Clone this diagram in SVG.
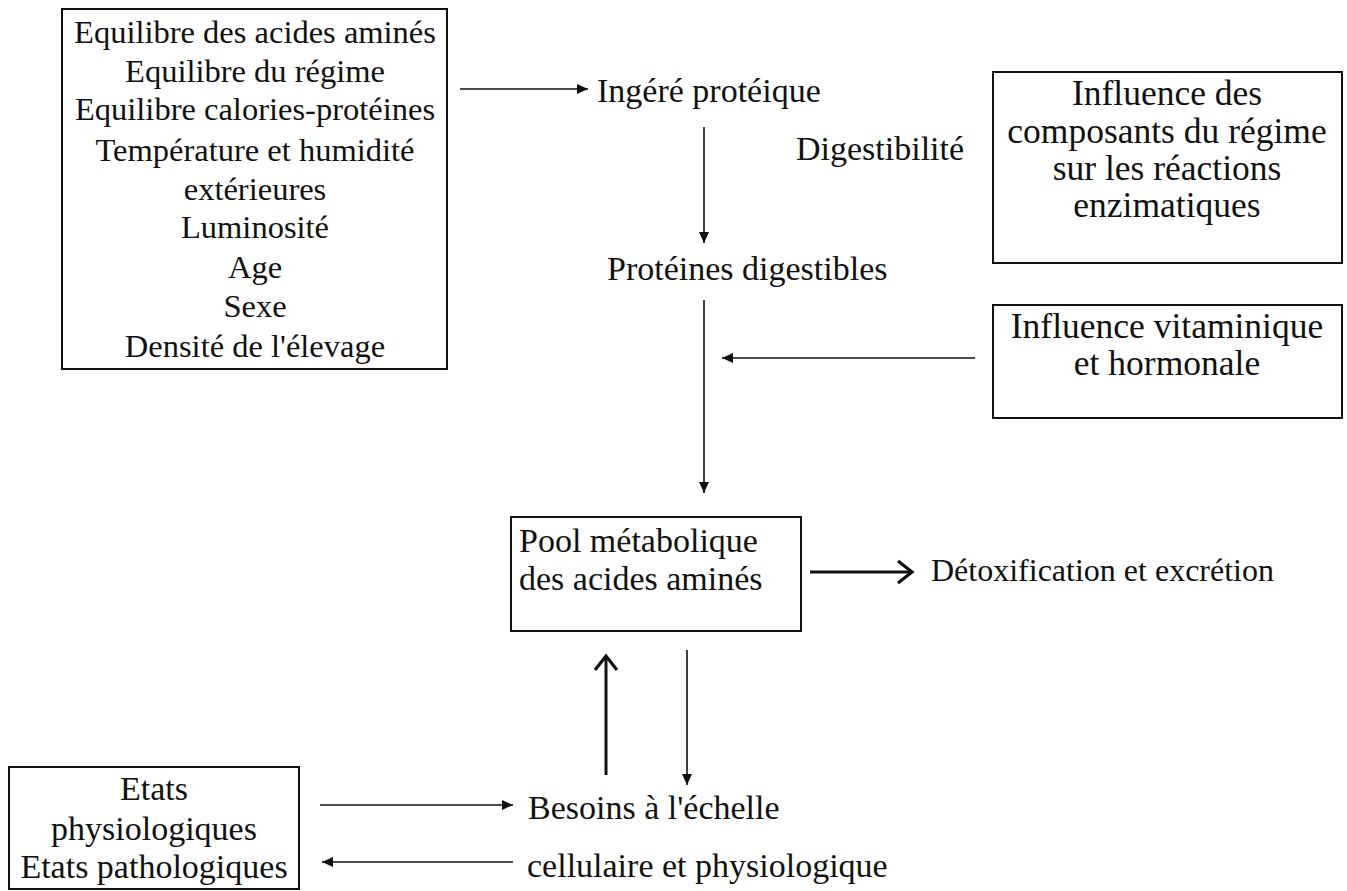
<svg xmlns="http://www.w3.org/2000/svg" width="1347" height="891" viewBox="0 0 1347 891">
<style>
text{font-family:"Liberation Serif","Times New Roman",serif;font-size:34px;fill:#111}
.s{font-size:32.5px}
.l{font-size:35.5px}
.d{font-size:32px}
.c{text-anchor:middle}
.box{fill:none;stroke:#111;stroke-width:2}
.ln{stroke:#111;stroke-width:1.6;fill:none}
.thk{stroke:#111;stroke-width:3;fill:none}
</style>
<defs>
<marker id="ah" markerUnits="userSpaceOnUse" markerWidth="12" markerHeight="12" refX="11" refY="5" orient="auto" viewBox="0 0 12 10">
<path d="M0,0 L11,5 L0,10 z" fill="#111"/>
</marker>
<marker id="chev" markerUnits="userSpaceOnUse" markerWidth="24" markerHeight="28" refX="18" refY="12" orient="auto" viewBox="0 0 24 24">
<path d="M4,1 L18,12 L4,23" fill="none" stroke="#111" stroke-width="3.2"/>
</marker>
</defs>
<rect width="1347" height="891" fill="#fff"/>

<g id="facteurs">
<rect class="box" x="62" y="9" width="385" height="360"/>
<text class="c s" x="255" y="43">Equilibre des acides aminés</text>
<text class="c s" x="255" y="82">Equilibre du régime</text>
<text class="c s" x="255" y="120">Equilibre calories-protéines</text>
<text class="c s" x="255" y="161">Température et humidité</text>
<text class="c s" x="255" y="200">extérieures</text>
<text class="c s" x="255" y="238">Luminosité</text>
<text class="c s" x="255" y="278">Age</text>
<text class="c s" x="255" y="317">Sexe</text>
<text class="c s" x="255" y="357">Densité de l'élevage</text>
</g>

<g id="ingere"><text x="597" y="102">Ingéré protéique</text></g>
<g id="digestibilite"><text x="796" y="160">Digestibilité</text></g>
<g id="proteines"><text x="607" y="280">Protéines digestibles</text></g>

<g id="influence-composants">
<rect class="box" x="993" y="72" width="349" height="191"/>
<text class="c l" x="1167" y="105">Influence des</text>
<text class="c l" x="1167" y="143">composants du régime</text>
<text class="c l" x="1167" y="180">sur les réactions</text>
<text class="c l" x="1167" y="217">enzimatiques</text>
</g>

<g id="influence-vitaminique">
<rect class="box" x="993" y="305" width="349" height="113"/>
<text class="c l" x="1167" y="338">Influence vitaminique</text>
<text class="c l" x="1167" y="375">et hormonale</text>
</g>

<g id="pool">
<rect class="box" x="511" y="517" width="290" height="114"/>
<text x="519" y="552">Pool métabolique</text>
<text x="519" y="590">des acides aminés</text>
</g>

<g id="detox"><text class="d" x="931" y="581">Détoxification et excrétion</text></g>

<g id="besoins">
<text x="528" y="819">Besoins à l'échelle</text>
<text x="527" y="877">cellulaire et physiologique</text>
</g>

<g id="etats">
<rect class="box" x="9" y="767" width="290" height="122"/>
<text class="c" x="154" y="800">Etats</text>
<text class="c" x="154" y="840">physiologiques</text>
<text class="c" x="154" y="878">Etats pathologiques</text>
</g>

<g id="connecteurs">
<line class="ln" x1="460" y1="89" x2="588" y2="89" marker-end="url(#ah)"/>
<line class="ln" x1="704" y1="127" x2="704" y2="243" marker-end="url(#ah)"/>
<line class="ln" x1="975" y1="358" x2="722" y2="358" marker-end="url(#ah)"/>
<line class="ln" x1="704" y1="300" x2="704" y2="493" marker-end="url(#ah)"/>
<line class="thk" x1="810" y1="572" x2="912" y2="572" marker-end="url(#chev)"/>
<line class="thk" x1="606" y1="775" x2="606" y2="656" marker-end="url(#chev)"/>
<line class="ln" x1="687" y1="650" x2="687" y2="785" marker-end="url(#ah)"/>
<line class="ln" x1="320" y1="805" x2="513" y2="805" marker-end="url(#ah)"/>
<line class="ln" x1="513" y1="862" x2="322" y2="862" marker-end="url(#ah)"/>
</g>
</svg>
